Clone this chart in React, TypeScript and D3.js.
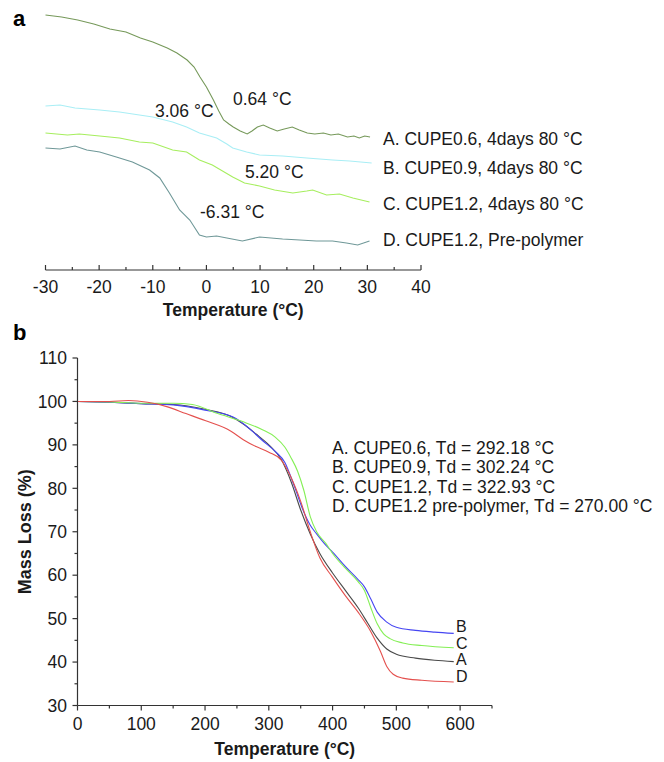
import React, { useEffect } from "react";
import * as d3 from "d3";

// ---------- Panel a (DSC) data: [temperature °C, heat flow a.u.] ----------
const dscA: [number, number][] = [
  [-30, 25.5], [-27, 25.3], [-24, 25.0], [-21, 24.6], [-18, 24.1], [-15, 23.8], [-12.3, 23.2],
  [-10, 22.8], [-7.3, 22.2], [-5.5, 21.7], [-3.6, 21.0], [-2.3, 20.3], [-1.2, 19.3], [0, 18.3],
  [1.3, 17.0], [2.3, 15.9], [3.2, 15.0], [4.2, 14.6], [5.0, 14.3], [6.3, 13.9], [7.6, 13.6],
  [8.5, 13.9], [9.5, 14.3], [10.6, 14.5], [11.8, 14.2], [13.2, 13.9], [14.5, 14.1], [16.0, 14.3],
  [17.3, 14.0], [18.8, 13.7], [20.2, 13.6], [21.8, 13.7], [23.2, 13.5], [24.6, 13.6], [26.3, 13.3],
  [27.5, 13.4], [28.5, 13.2], [29.5, 13.4], [30.5, 13.3],
];
const dscB: [number, number][] = [
  [-30, 16.4], [-27.3, 16.5], [-24.5, 16.2], [-19.9, 16.0], [-16.2, 15.8], [-12.5, 15.5],
  [-10.0, 15.3], [-6.3, 14.8], [-3.7, 14.3], [-1.3, 13.7], [1.9, 13.2], [3.8, 12.6], [4.9, 12.2],
  [7.5, 11.8], [9.9, 11.5], [14.2, 11.4], [18.7, 11.2], [23.5, 11.0], [26.7, 10.9], [30.8, 10.7],
];
const dscC: [number, number][] = [
  [-30, 13.7], [-25.9, 13.5], [-23.7, 13.6], [-19.9, 13.4], [-16.2, 13.2], [-12.5, 12.8],
  [-10.0, 12.7], [-6.3, 12.0], [-3.7, 11.8], [-1.3, 11.0], [1.1, 10.5], [4.9, 9.3], [7.1, 8.7],
  [9.9, 8.4], [12.7, 8.0], [16.1, 7.7], [18.7, 7.9], [19.8, 8.0], [22.4, 7.5], [24.8, 7.6],
  [27.3, 7.2], [30.4, 6.8],
];
const dscD: [number, number][] = [
  [-30, 12.2], [-27.3, 12.1], [-24.5, 12.4], [-22.3, 12.0], [-19.9, 11.8], [-16.8, 11.3],
  [-13.8, 10.8], [-10.6, 10.0], [-8.7, 9.2], [-6.9, 7.7], [-5.0, 6.0], [-3.1, 5.0], [-1.3, 3.5],
  [0.0, 3.3], [1.9, 3.4], [3.8, 3.2], [6.7, 2.9], [9.9, 3.3], [14.2, 3.1], [17.4, 3.0],
  [20.5, 2.9], [23.5, 2.9], [26.1, 2.7], [28.2, 2.5], [30.4, 2.9],
];
const dscLegend = [
  "A. CUPE0.6, 4days 80 °C",
  "B. CUPE0.9, 4days 80 °C",
  "C. CUPE1.2, 4days 80 °C",
  "D. CUPE1.2, Pre-polymer",
];
const dscTg = ["0.64 °C", "3.06 °C", "5.20 °C", "-6.31 °C"];
const dscTicks = [-30, -20, -10, 0, 10, 20, 30, 40];

// ---------- Panel b (TGA) data: [temperature °C, mass %] ----------
const tgaA: [number, number][] = [
  [0, 100], [50, 99.8], [100, 99.5], [150, 99.3], [200, 98.2], [240, 96.6], [260, 94.8],
  [280, 92.5], [300, 90.0], [320, 86.5], [335, 81.5], [350, 75.0], [365, 69.5], [380, 65.0],
  [400, 60.5], [420, 56.5], [440, 52.5], [455, 49.0], [470, 45.5], [485, 43.0], [500, 41.8],
  [530, 40.9], [560, 40.4], [590, 40.1],
];
const tgaB: [number, number][] = [
  [0, 100], [50, 99.8], [100, 99.5], [150, 99.2], [200, 98.0], [244, 96.4], [270, 93.7],
  [290, 91.0], [310, 88.5], [325, 86.0], [340, 80.5], [355, 74.5], [365, 71.5], [375, 69.5],
  [390, 66.8], [400, 65.3], [420, 62.0], [440, 59.0], [450, 57.3], [460, 54.5], [470, 51.5],
  [485, 49.2], [500, 48.0], [530, 47.3], [560, 46.9], [590, 46.6],
];
const tgaC: [number, number][] = [
  [0, 100], [50, 99.9], [100, 99.6], [150, 99.6], [180, 99.3], [220, 97.2], [260, 95.3],
  [290, 93.5], [310, 91.8], [325, 89.5], [335, 87.0], [345, 84.0], [355, 79.5], [365, 73.5],
  [375, 70.0], [390, 67.2], [400, 65.0], [420, 61.6], [440, 58.5], [450, 56.5], [460, 52.5],
  [470, 48.8], [480, 46.5], [490, 45.4], [510, 44.4], [540, 43.8], [590, 43.3],
];
const tgaD: [number, number][] = [
  [0, 100], [50, 100], [80, 100.2], [110, 99.8], [140, 98.8], [170, 97.2], [200, 95.6],
  [240, 93.2], [260, 91.2], [280, 89.6], [300, 88.3], [320, 86.4], [335, 82.5], [350, 77.0],
  [365, 70.0], [380, 64.0], [400, 59.5], [420, 55.3], [440, 51.5], [460, 47.0], [475, 42.5],
  [485, 39.0], [495, 37.2], [510, 36.3], [540, 35.8], [590, 35.4],
];
const tgaLegend = [
  "A. CUPE0.6, Td = 292.18 °C",
  "B. CUPE0.9, Td = 302.24 °C",
  "C. CUPE1.2, Td = 322.93 °C",
  "D. CUPE1.2 pre-polymer, Td = 270.00 °C",
];
const tgaEndLabels = ["A", "B", "C", "D"];
const tgaXTicks = [0, 100, 200, 300, 400, 500, 600];
const tgaYTicks = [30, 40, 50, 60, 70, 80, 90, 100, 110];

const FONT = "'Liberation Sans', Arial, Helvetica, sans-serif";
const FS = 17.5;

export default function App() {
  useEffect(() => {
    document.body.style.margin = "0";
  }, []);

  // Panel a scales
  const xa = d3.scaleLinear().domain([-30, 40]).range([45.5, 421]);
  const ya = d3.scaleLinear().domain([0, 26]).range([270, 10]);
  const lineA = d3.line<[number, number]>().x(d => xa(d[0])).y(d => ya(d[1]));
  const dscSeries = [
    { data: dscA, color: "#76995a" },
    { data: dscB, color: "#a9eef5" },
    { data: dscC, color: "#a6ee5e" },
    { data: dscD, color: "#6f9898" },
  ];
  const dscLegendY = [145, 174, 210, 246];
  const dscTgPos: [number, number][] = [[233, 105], [155, 117], [245, 178], [200, 218]];
  const aMinor = d3.range(-25, 40, 10);

  // Panel b scales
  const xb = d3.scaleLinear().domain([0, 650]).range([77.5, 492]);
  const yb = d3.scaleLinear().domain([30, 110]).range([705.5, 358]);
  const lineB = d3.line<[number, number]>().x(d => xb(d[0])).y(d => yb(d[1])).curve(d3.curveMonotoneX);
  const tgaSeries = [
    { data: tgaA, color: "#4a4a4a" },
    { data: tgaB, color: "#4646f2" },
    { data: tgaC, color: "#84ef55" },
    { data: tgaD, color: "#e4504e" },
  ];
  const bxMinor = d3.range(50, 651, 100);
  const byMinor = d3.range(35, 110, 10);
  const endLabelY: Record<string, number> = { B: 632, C: 649, A: 665, D: 682 };

  return (
    <svg width={664} height={762} style={{ position: "absolute", left: 0, top: 0, background: "#fff" }} fontFamily={FONT}>
      {/* ---------- Panel a ---------- */}
      <text x={13} y={26} fontSize={22} fontWeight="bold">a</text>
      {dscSeries.map((s, i) => (
        <path key={i} d={lineA(s.data) || ""} fill="none" stroke={s.color} strokeWidth={1.1} />
      ))}
      {dscTg.map((t, i) => (
        <text key={i} x={dscTgPos[i][0]} y={dscTgPos[i][1]} fontSize={FS} fill="#1a1a1a">{t}</text>
      ))}
      {dscLegend.map((t, i) => (
        <text key={i} x={383} y={dscLegendY[i]} fontSize={FS} fill="#1a1a1a">{t}</text>
      ))}
      <line x1={xa(-30)} x2={xa(40)} y1={270} y2={270} stroke="#333" strokeWidth={1.2} />
      {dscTicks.map(t => (
        <g key={t}>
          <line x1={xa(t)} x2={xa(t)} y1={270} y2={265} stroke="#333" strokeWidth={1.2} />
          <text x={xa(t)} y={292.5} fontSize={FS} textAnchor="middle" fill="#1a1a1a">{t}</text>
        </g>
      ))}
      {aMinor.map(t => (
        <line key={t} x1={xa(t)} x2={xa(t)} y1={270} y2={267} stroke="#333" strokeWidth={1.2} />
      ))}
      <text x={xa(5)} y={316} fontSize={FS} fontWeight="bold" textAnchor="middle" fill="#1a1a1a">Temperature (°C)</text>

      {/* ---------- Panel b ---------- */}
      <text x={13} y={340} fontSize={22} fontWeight="bold">b</text>
      {tgaSeries.map((s, i) => (
        <path key={i} d={lineB(s.data) || ""} fill="none" stroke={s.color} strokeWidth={1.1} />
      ))}
      <line x1={xb(0)} x2={xb(0)} y1={yb(110)} y2={yb(30)} stroke="#333" strokeWidth={1.2} />
      <line x1={xb(0)} x2={xb(650)} y1={yb(30)} y2={yb(30)} stroke="#333" strokeWidth={1.2} />
      {tgaYTicks.map(t => (
        <g key={t}>
          <line x1={xb(0) - 5} x2={xb(0)} y1={yb(t)} y2={yb(t)} stroke="#333" strokeWidth={1.2} />
          <text x={67} y={yb(t) + 6.2} fontSize={FS} textAnchor="end" fill="#1a1a1a">{t}</text>
        </g>
      ))}
      {byMinor.map(t => (
        <line key={t} x1={xb(0) - 3} x2={xb(0)} y1={yb(t)} y2={yb(t)} stroke="#333" strokeWidth={1.2} />
      ))}
      {tgaXTicks.map(t => (
        <g key={t}>
          <line x1={xb(t)} x2={xb(t)} y1={yb(30)} y2={yb(30) + 5} stroke="#333" strokeWidth={1.2} />
          <text x={xb(t)} y={730} fontSize={FS} textAnchor="middle" fill="#1a1a1a">{t}</text>
        </g>
      ))}
      {bxMinor.map(t => (
        <line key={t} x1={xb(t)} x2={xb(t)} y1={yb(30)} y2={yb(30) + 3} stroke="#333" strokeWidth={1.2} />
      ))}
      <text x={xb(325)} y={755} fontSize={FS} fontWeight="bold" textAnchor="middle" fill="#1a1a1a">Temperature (°C)</text>
      <text transform={`translate(31,${(yb(110) + yb(30)) / 2}) rotate(-90)`} fontSize={18} fontWeight="bold" textAnchor="middle" fill="#1a1a1a">Mass Loss (%)</text>
      {tgaLegend.map((t, i) => (
        <text key={i} x={332} y={454 + i * 19.3} fontSize={FS} fill="#1a1a1a">{t}</text>
      ))}
      {tgaEndLabels.map(l => (
        <text key={l} x={456} y={endLabelY[l]} fontSize={16} fill="#1a1a1a">{l}</text>
      ))}
    </svg>
  );
}
